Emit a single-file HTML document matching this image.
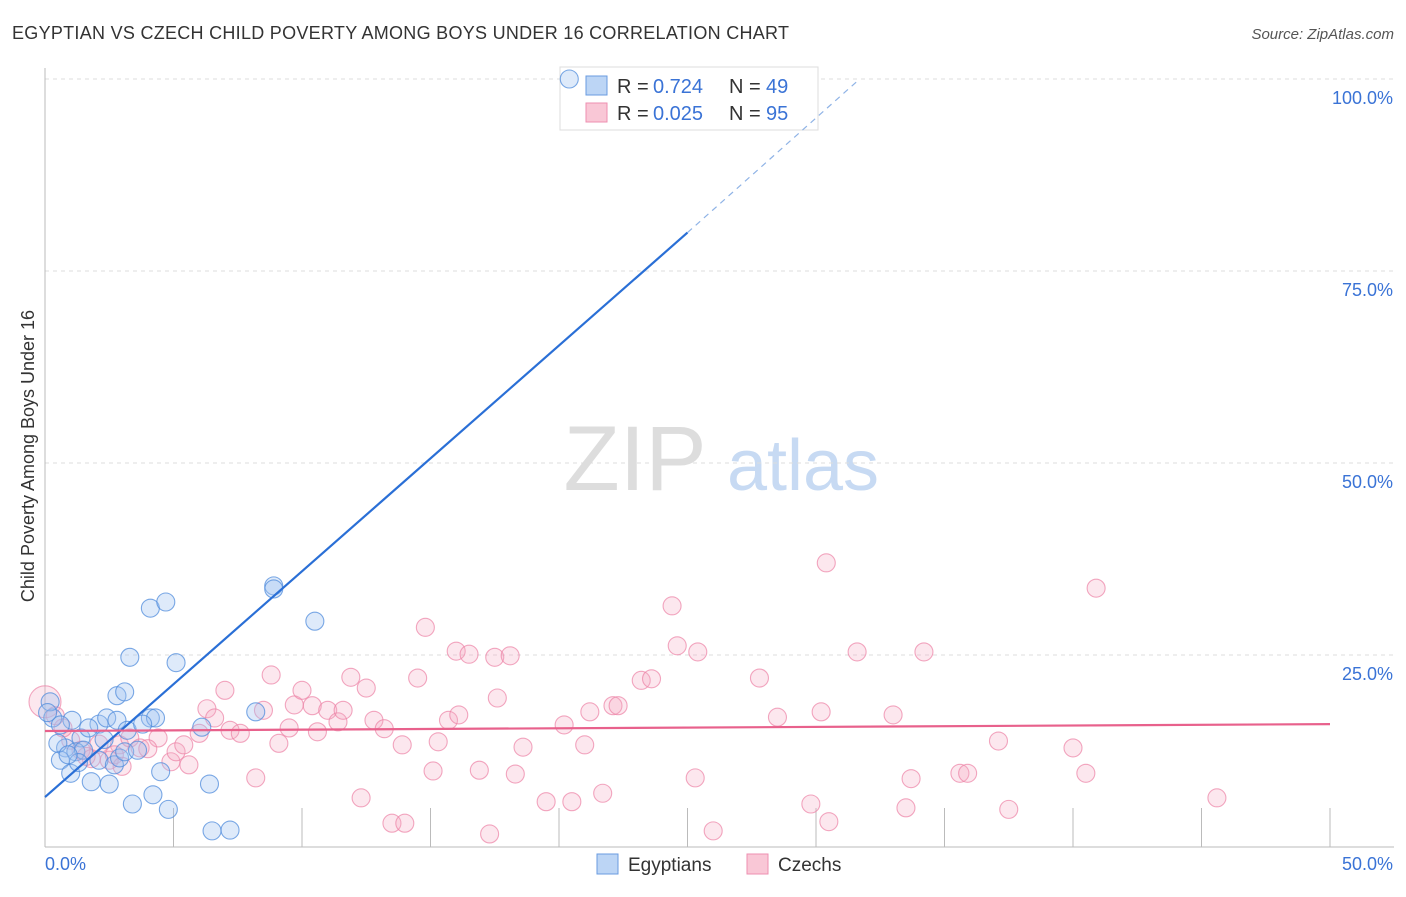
<!DOCTYPE html>
<html><head><meta charset="utf-8"><style>
body{margin:0;background:#fff;font-family:"Liberation Sans",sans-serif}
svg text{font-family:"Liberation Sans",sans-serif}
</style></head><body>
<svg id="chart" width="1406" height="892" viewBox="0 0 1406 892">
<text x="12" y="39" font-size="18" fill="#333" textLength="777">EGYPTIAN VS CZECH CHILD POVERTY AMONG BOYS UNDER 16 CORRELATION CHART</text>
<text x="1394" y="39" font-size="15" fill="#555" font-style="italic" text-anchor="end">Source: ZipAtlas.com</text>
<g>
<text x="635" y="490" font-size="92" fill="#ddd" font-family="Liberation Serif,serif" text-anchor="middle">ZIP</text>
<text x="803" y="490" font-size="72" fill="#c7daf3" text-anchor="middle">atlas</text>
</g>
<g id="grid"></g>
<g id="axes"></g>
<text transform="translate(34,456) rotate(-90)" font-size="18" fill="#333" text-anchor="middle">Child Poverty Among Boys Under 16</text>
<g>
<rect x="560" y="67" width="258" height="63" fill="#fff" stroke="#ddd"/>
<rect x="586" y="76" width="21" height="19" fill="#bcd5f5" stroke="#6a9be0"/>
<rect x="586" y="103" width="21" height="19" fill="#f9c7d6" stroke="#ee8fb0"/>
<text x="617" y="93" font-size="20" fill="#333">R =</text>
<text x="653" y="93" font-size="20" fill="#3a73d6">0.724</text>
<text x="729" y="93" font-size="20" fill="#333">N =</text>
<text x="766" y="93" font-size="20" fill="#3a73d6">49</text>
<text x="617" y="120" font-size="20" fill="#333">R =</text>
<text x="653" y="120" font-size="20" fill="#3a73d6">0.025</text>
<text x="729" y="120" font-size="20" fill="#333">N =</text>
<text x="766" y="120" font-size="20" fill="#3a73d6">95</text>
</g>
<g id="pts"></g>
<g id="lines"></g>
<g>
<rect x="597" y="854" width="21" height="20" fill="#bcd5f5" stroke="#6a9be0"/>
<text x="628" y="871" font-size="19" fill="#333">Egyptians</text>
<rect x="747" y="854" width="21" height="20" fill="#f9c7d6" stroke="#ee8fb0"/>
<text x="778" y="871" font-size="19" fill="#333">Czechs</text>
</g>
</svg>
<script>
const yTicks=[25,50,75,100];
const yTickLabels=["25.0%","50.0%","75.0%","100.0%"];
const xTickVals=[5,10,15,20,25,30,35,40,45,50];
const xLabels=["0.0%","50.0%"];
const blueX=[20.4,0.3,1.05,0.2,0.6,1.4,2.1,2.4,2.8,1.7,0.8,1.2,1.5,0.6,1.0,1.8,2.5,2.1,2.7,2.9,3.1,3.6,3.2,4.1,4.3,2.8,3.1,3.3,4.1,4.7,5.1,4.5,4.2,3.4,4.8,6.5,7.2,6.4,6.1,8.2,8.9,8.9,10.5,0.5,1.3,2.3,3.8,0.1,0.9];
const blueY=[100,16.8,16.5,18.9,15.9,14.2,16.0,16.8,16.5,15.5,12.9,12.4,12.6,11.3,9.6,8.5,8.2,11.3,10.7,11.6,12.4,12.6,15.2,16.8,16.8,19.7,20.2,24.7,31.1,31.9,24.0,9.8,6.8,5.6,4.9,2.1,2.2,8.2,15.6,17.6,34.0,33.6,29.4,13.5,11.0,14.0,16.0,17.5,12.0];
const pinkX=[0,0.4,1.0,1.4,2.1,2.5,2.9,3.3,3.7,4.4,4.9,5.1,5.4,5.6,6.0,6.3,6.6,7.0,7.2,7.6,8.2,8.5,8.8,9.1,9.5,9.7,10.0,10.4,10.6,11.0,11.4,11.6,11.9,12.3,12.5,12.8,13.2,13.5,14.0,13.9,14.5,14.8,15.1,15.3,15.7,16.0,16.1,16.5,16.9,17.3,17.5,17.6,18.1,18.3,18.6,19.5,20.2,20.5,21.0,21.2,21.7,22.1,22.3,23.2,23.6,24.4,24.6,25.3,25.4,26.0,27.8,28.5,29.8,30.2,30.5,30.4,31.6,33.0,33.5,33.7,34.2,35.6,35.9,37.1,37.5,40.0,40.5,40.9,45.6,1.8,2.7,3.0,4.0,0.7,1.6];
const pinkY=[18.9,17.1,13.9,12.6,13.4,11.3,13.3,14.2,12.9,14.2,11.1,12.4,13.3,10.7,14.8,18.0,16.8,20.4,15.2,14.8,9.0,17.8,22.4,13.5,15.5,18.5,20.4,18.4,15.0,17.8,16.3,17.8,22.1,6.4,20.7,16.5,15.4,3.1,3.1,13.3,22.0,28.6,9.9,13.7,16.5,25.5,17.2,25.1,10.0,1.7,24.7,19.4,24.9,9.5,13.0,5.9,15.9,5.9,13.3,17.6,7.0,18.4,18.4,21.7,21.9,31.4,26.2,9.0,25.4,2.1,22.0,16.9,5.6,17.6,3.3,37.0,25.4,17.2,5.1,8.9,25.4,9.6,9.6,13.8,4.9,12.9,9.6,33.7,6.4,11.5,12.0,10.5,12.8,15.5,11.8];
const blueLine=[[0,6.5],[25,80],[31.7,100]];
const pinkLine=[[0,15.1],[50,16.0]];
const X=v=>45+v*25.7, Y=v=>847-v*7.68;
const NS="http://www.w3.org/2000/svg";
function mk(parent,tag,attrs){const e=document.createElementNS(NS,tag);for(const k in attrs)e.setAttribute(k,attrs[k]);document.getElementById(parent).appendChild(e);return e;}
yTicks.forEach((t,i)=>{
 const l=mk('grid','line',{x1:45,x2:1394,y1:Y(t),y2:Y(t),stroke:'#ddd','stroke-dasharray':'4,4'});
 
 
 const tx=mk('grid','text',{x:1393,y:Y(t)+25,'font-size':18,fill:'#3a73d6','text-anchor':'end'});
 tx.textContent=yTickLabels[i];
 
 
});
let a=mk('axes','line',{x1:45,x2:45,y1:68,y2:847,stroke:'#bbb'});


a=mk('axes','line',{x1:45,x2:1394,y1:847,y2:847,stroke:'#bbb'});


xTickVals.forEach(t=>{const l=mk('axes','line',{x1:X(t),x2:X(t),y1:808,y2:847,stroke:'#bbb'});
 
 });
let t0=mk('axes','text',{x:45,y:870,'font-size':18,fill:'#3a73d6'});t0.textContent=xLabels[0];


let t1=mk('axes','text',{x:1393,y:870,'font-size':18,fill:'#3a73d6','text-anchor':'end'});t1.textContent=xLabels[1];


pinkX.forEach((v,i)=>{const c=mk('pts','circle',{cx:X(v),cy:Y(pinkY[i]),r:i===0?16:9,fill:'rgba(244,170,195,0.28)',stroke:'rgba(236,130,165,0.7)','stroke-width':1.1});
 
 });
blueX.forEach((v,i)=>{const c=mk('pts','circle',{cx:X(v),cy:Y(blueY[i]),r:9,fill:'rgba(160,195,240,0.35)',stroke:'rgba(80,140,220,0.75)','stroke-width':1.1});
 
 });
let bl=mk('lines','line',{x1:X(blueLine[0][0]),y1:Y(blueLine[0][1]),x2:X(blueLine[1][0]),y2:Y(blueLine[1][1]),stroke:'#2a6fd6','stroke-width':2.2});


let bd=mk('lines','line',{x1:X(blueLine[1][0]),y1:Y(blueLine[1][1]),x2:X(blueLine[2][0]),y2:Y(blueLine[2][1]),stroke:'#8fb3e6','stroke-width':1.2,'stroke-dasharray':'6,5'});


let pl=mk('lines','line',{x1:X(pinkLine[0][0]),y1:Y(pinkLine[0][1]),x2:X(pinkLine[1][0]),y2:Y(pinkLine[1][1]),stroke:'#e8618c','stroke-width':2.2});


</script>
</body></html>
